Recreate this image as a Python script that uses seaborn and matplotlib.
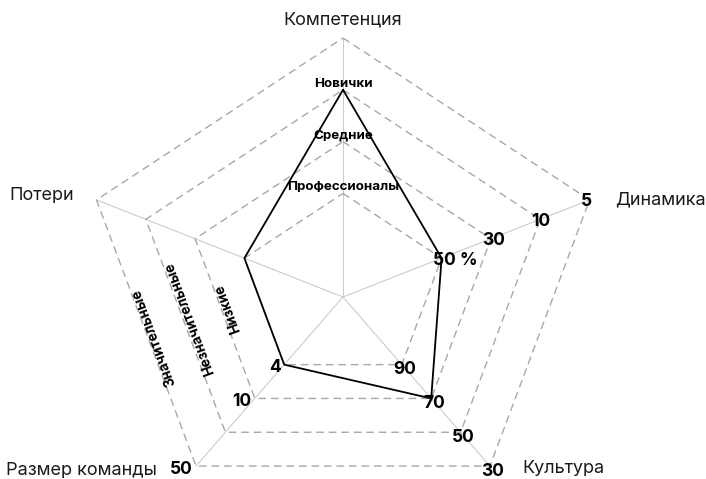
"""
Радар-диаграмма профиля команды: пять осей, четыре уровня на каждой.
Сохраняет out.png (706x479).
"""

import matplotlib

matplotlib.use("Agg")

import matplotlib.pyplot as plt
import numpy as np
import pandas as pd
import seaborn as sns


# Оси радара по часовой стрелке, начиная сверху
CATEGORIES = ["Компетенция", "Динамика", "Культура", "Размер команды", "Потери"]

# Подписи уровней 1..4 (от центра к краю)
COMPETENCE_LABELS = ["Профессионалы", "Средние", "Новички", ""]
DYNAMICS_LABELS = ["50 %", "30", "10", "5"]
CULTURE_LABELS = ["90", "70", "50", "30"]
TEAM_SIZE_LABELS = ["4", "10", "", "50"]
# Потери подписаны по полосам между уровнями, вдоль ребра к "Размеру команды"
LOSSES_LABELS = ["Низкие", "Незначительные", "Значительные"]

# Уровень команды по каждой оси
TEAM_LEVELS = [3, 1, 2, 1, 1]

N_LEVELS = 4

# Геометрия (рисунок слегка "в перспективе": нижние оси короче)
AXIS_ANGLE = np.deg2rad([90, 21.5, -49, -131, 158.5])
AXIS_LEN = np.array([1.0, 1.023, 0.865, 0.865, 1.023])
R_ORIGIN = 1.0  # уровень 0 не в центре, как set_rorigin у полярных осей
LOSS_LABEL_POS = [0.44, 0.47, 0.52]  # доля пути по ребру Потери -> Размер

GRID_COLOR = "#a8a8a8"
SPOKE_COLOR = "#cccccc"
TEXT_COLOR = "#1a1a1a"


def radius(level):
    return (np.asarray(level, dtype=float) + R_ORIGIN) / (N_LEVELS + R_ORIGIN)


def to_xy(axis_idx, level):
    r = radius(level) * AXIS_LEN[axis_idx]
    return r * np.cos(AXIS_ANGLE[axis_idx]), r * np.sin(AXIS_ANGLE[axis_idx])


sns.set_theme(style="white")
plt.rcParams["font.family"] = ["Inter", "DejaVu Sans"]

fig = plt.figure(figsize=(7.06, 4.79), dpi=100)
ax = fig.add_axes([0, 0, 1, 1])

n_axes = len(CATEGORIES)

# Лучи из центра
for i in range(n_axes):
    xs, ys = to_xy(i, [-R_ORIGIN, N_LEVELS])
    ax.plot(xs, ys, color=SPOKE_COLOR, lw=0.8, zorder=1)

# Пунктирные пятиугольники уровней
for level in range(1, N_LEVELS + 1):
    pts = [to_xy(i, level) for i in range(n_axes)]
    pts.append(pts[0])
    xs, ys = zip(*pts)
    ax.plot(xs, ys, color=GRID_COLOR, lw=1.0, dashes=(5.5, 3.5), zorder=2)

# Профиль команды
team_pts = [to_xy(i, lvl) for i, lvl in enumerate(TEAM_LEVELS)]
team_pts.append(team_pts[0])
team_df = pd.DataFrame(team_pts, columns=["x", "y"])
sns.lineplot(data=team_df, x="x", y="y", sort=False, estimator=None,
             color="black", lw=1.3, ax=ax, zorder=3)

# Названия осей: (ha, va, dx, dy) в пикселях от внешней вершины
name_style = [
    ("center", "center", 0, 18),
    ("left", "center", 26, 0),
    ("left", "center", 32, -2),
    ("right", "center", -39, -4),
    ("right", "center", -22, 4),
]
for i, name in enumerate(CATEGORIES):
    ha, va, dx, dy = name_style[i]
    ax.annotate(name, to_xy(i, N_LEVELS), xytext=(dx, dy), textcoords="offset pixels",
                ha=ha, va=va, fontsize=13, color=TEXT_COLOR)

# Подписи уровней
tick_sets = [
    (0, COMPETENCE_LABELS, "center", 0, 6, 9.6),
    (1, DYNAMICS_LABELS, "left", -9, -2, 12.5),
    (2, CULTURE_LABELS, "center", 3, -5, 12.5),
    (3, TEAM_SIZE_LABELS, "right", -3, -3, 12.5),
]
for axis_idx, labels, ha, dx, dy, size in tick_sets:
    for level, text in enumerate(labels, start=1):
        if not text:
            continue
        ax.annotate(text, to_xy(axis_idx, level), xytext=(dx, dy), textcoords="offset pixels",
                    ha=ha, va="center", fontsize=size, fontweight="bold", color="black",
                    zorder=4)

# Потери: подписи полос, читаются снизу вверх вдоль ребра Потери -> Размер команды
loss_axis, next_axis = 4, 3
for k, text in enumerate(LOSSES_LABELS, start=1):
    band = k + 0.85
    px, py = to_xy(loss_axis, band)
    sx, sy = to_xy(next_axis, band)
    t = LOSS_LABEL_POS[k - 1]
    angle = np.degrees(np.arctan2(py - sy, px - sx))
    ax.text(px + t * (sx - px), py + t * (sy - py), text, rotation=angle,
            rotation_mode="anchor", ha="center", va="center",
            fontsize=10, fontweight="bold", color="black")

# Одна единица данных = 259 px, центр в (343, 297) от левого верхнего угла
ax.set_xlim(-343 / 259, 363 / 259)
ax.set_ylim(-182 / 259, 297 / 259)
ax.axis("off")

fig.savefig("out.png", dpi=100)
plt.close(fig)
